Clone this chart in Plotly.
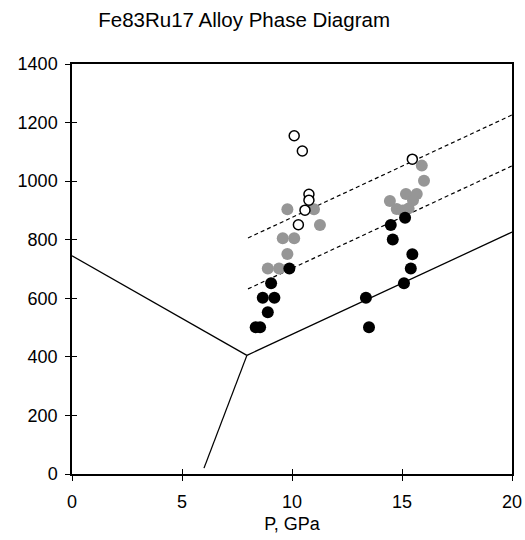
import plotly.graph_objects as go

# Phase boundary lines (P, T)
boundary_left_x = [0, 7.95]
boundary_left_y = [745, 405]
boundary_right_x = [7.95, 20]
boundary_right_y = [405, 826]
boundary_down_x = [7.95, 6.0]
boundary_down_y = [405, 20]

dash_upper_x = [8.0, 20]
dash_upper_y = [806, 1226]
dash_lower_x = [8.0, 20]
dash_lower_y = [632, 1052]

# Data points
black_x = [9.88, 9.05, 8.67, 9.2, 8.9, 8.35, 8.55,
           15.14, 14.49, 14.58, 15.47, 15.4, 15.09, 13.36, 13.5]
black_y = [702, 651, 602, 602, 552, 501, 501,
           875, 850, 801, 750, 702, 651, 602, 501]

gray_x = [9.79, 11.0, 11.27, 9.58, 10.1, 9.79, 8.9, 9.41,
          15.9, 16.0, 15.18, 15.67, 14.45, 15.5, 14.76, 15.3, 15.03]
gray_y = [904, 904, 850, 805, 805, 751, 702, 702,
          1053, 1001, 956, 956, 932, 935, 905, 907, 900]

open_x = [10.1, 10.47, 10.77, 10.77, 10.59, 10.29, 15.47]
open_y = [1155, 1103, 955, 935, 901, 851, 1075]

x_ticks = [0, 5, 10, 15, 20]
y_ticks = [0, 200, 400, 600, 800, 1000, 1200, 1400]

FONT = "Liberation Sans, Arial"

fig = go.Figure()

for xs, ys in [(boundary_left_x, boundary_left_y),
               (boundary_right_x, boundary_right_y),
               (boundary_down_x, boundary_down_y)]:
    fig.add_trace(go.Scatter(x=xs, y=ys, mode="lines",
                             line=dict(color="black", width=1.3),
                             showlegend=False, hoverinfo="skip"))

for xs, ys in [(dash_upper_x, dash_upper_y), (dash_lower_x, dash_lower_y)]:
    fig.add_trace(go.Scatter(x=xs, y=ys, mode="lines",
                             line=dict(color="black", width=1.2, dash="4px,3px"),
                             showlegend=False, hoverinfo="skip"))

fig.add_trace(go.Scatter(x=gray_x, y=gray_y, mode="markers",
                         marker=dict(color="#969696", size=12, line=dict(width=0)),
                         showlegend=False))
fig.add_trace(go.Scatter(x=black_x, y=black_y, mode="markers",
                         marker=dict(color="black", size=12, line=dict(width=0)),
                         showlegend=False))
fig.add_trace(go.Scatter(x=open_x, y=open_y, mode="markers",
                         marker=dict(color="white", size=10,
                                     line=dict(color="black", width=1.5)),
                         showlegend=False))

# invisible trace to hold the inward-tick overlay axes
fig.add_trace(go.Scatter(x=[None], y=[None], xaxis="x2", yaxis="y2",
                         showlegend=False, hoverinfo="skip"))

axis_common = dict(showgrid=False, zeroline=False, showline=True,
                   linecolor="black", linewidth=1.5, mirror=True,
                   ticks="outside", ticklen=5, tickcolor="black", tickwidth=1.2,
                   tickfont=dict(family=FONT, size=18, color="black"))

inner_common = dict(showgrid=False, zeroline=False, showline=False,
                    ticks="inside", ticklen=5, tickcolor="black", tickwidth=1.2,
                    showticklabels=False)

fig.update_layout(
    width=525, height=540,
    margin=dict(l=72, r=13, t=64, b=66, autoexpand=False),
    paper_bgcolor="white", plot_bgcolor="white",
    title=dict(text="Fe83Ru17 Alloy Phase Diagram",
               font=dict(family=FONT, size=20.5, color="black"),
               x=0.465, xanchor="center", y=0.963, yanchor="middle"),
    xaxis=dict(range=[0, 20], tickvals=x_ticks, ticklabelstandoff=6,
               title=dict(text="P, GPa",
                          font=dict(family=FONT, size=18, color="black"),
                          standoff=6),
               **axis_common),
    yaxis=dict(range=[0, 1400], tickvals=y_ticks, ticklabelstandoff=4,
               **axis_common),
    xaxis2=dict(range=[0, 20], tickvals=x_ticks, overlaying="x", anchor="y2",
                side="bottom", **inner_common),
    yaxis2=dict(range=[0, 1400], tickvals=y_ticks, overlaying="y", anchor="x2",
                side="left", **inner_common),
)

fig.write_html(
    "out.html",
    config={"displayModeBar": False},
    post_script="document.body.style.margin='0';document.body.style.overflow='hidden';",
)
